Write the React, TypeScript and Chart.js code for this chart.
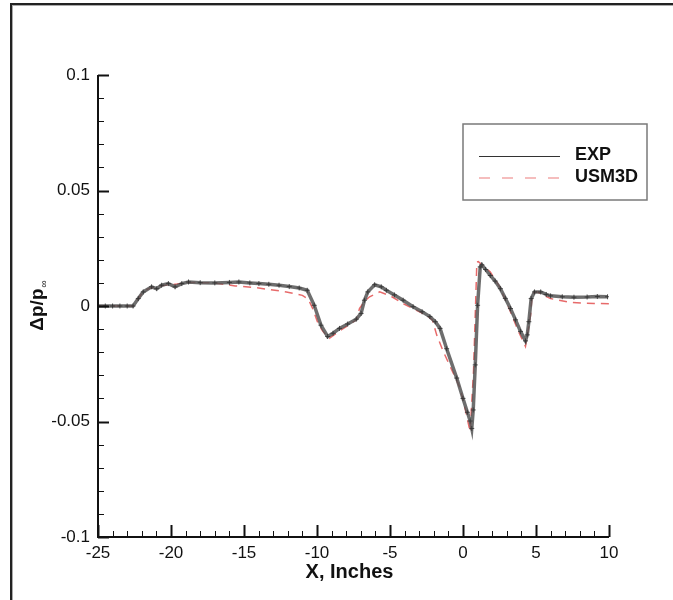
import React, { useEffect, useRef } from 'react';
import { Chart, registerables } from 'chart.js';

Chart.register(...registerables);

// ---- data ----
const seriesNames = ['EXP', 'USM3D'];

const expX = [
  -25, -24.5, -24, -23.5, -23, -22.6, -22.24, -21.9, -21.33, -20.98, -20.64, -20.18, -19.72, -19.26,
  -18.8, -18, -17, -16, -15.35, -14.6, -13.98, -13.3, -12.6, -11.9, -11.22, -10.67, -10.19, -9.73,
  -9.27, -8.9, -8.46, -7.9, -7.31, -6.98, -6.75, -6.52, -6.05, -5.6, -5.25, -4.7, -4.1, -3.42, -2.8,
  -2.27, -1.9, -1.57, -1.12, -0.43, 0.0, 0.3, 0.49, 0.6, 0.7, 0.84, 1.0, 1.18, 1.29, 1.55, 1.87, 2.2,
  2.56, 2.9, 3.25, 3.6, 3.94, 4.28, 4.4, 4.51, 4.67, 4.9, 5.32, 5.7, 6.0, 6.8, 7.6, 8.5, 9.2, 9.9,
];
const expY = [
  0, 0, 0, 0, 0, 0, 0.0032, 0.0061, 0.0083, 0.0075, 0.009, 0.0097, 0.0083, 0.0097,
  0.0104, 0.0101, 0.01, 0.0102, 0.0104, 0.01, 0.0097, 0.0094, 0.009, 0.0084, 0.0078, 0.0068, 0.0003, -0.0083,
  -0.0132, -0.0118, -0.0097, -0.0078, -0.0057, -0.0032, 0.0025, 0.0061, 0.0092, 0.0083, 0.0068, 0.0048, 0.0025, -0.0003, -0.0025,
  -0.0046, -0.0068, -0.0097, -0.0185, -0.0312, -0.04, -0.046, -0.0498, -0.053, -0.045, -0.0255, 0.0003, 0.0169, 0.0178, 0.0158, 0.0132, 0.0108,
  0.0075, 0.0033, -0.0011, -0.006, -0.011, -0.0151, -0.0125, -0.0068, 0.0032, 0.0061, 0.0061, 0.005, 0.0044, 0.004, 0.0038, 0.0039, 0.0041, 0.004,
];

const usmX = [
  -25, -22.6, -22.0, -21.55, -20.9, -20.4, -19.6, -18.8, -17, -15.6, -14, -12.1, -11.0, -10.6, -10.3,
  -9.98, -9.6, -9.15, -8.5, -7.9, -7.3, -7.09, -6.75, -6.4, -5.71, -5.0, -4.12, -3.3, -2.5, -2.1, -1.8,
  -1.35, -0.2, 0.2, 0.49, 0.72, 0.95, 1.05, 1.87, 2.5, 3.25, 3.8, 4.28, 4.63, 4.74, 5.09, 6.0, 7.38, 8.99, 10,
];
const usmY = [
  0, 0, 0.0054, 0.0075, 0.0085, 0.009, 0.0095, 0.0102, 0.01, 0.0087, 0.0078, 0.0061, 0.0046, 0.003, -0.001,
  -0.0067, -0.011, -0.014, -0.011, -0.0085, -0.006, -0.0011, 0.002, 0.004, 0.0061, 0.0045, 0.0011, -0.0015, -0.004, -0.006, -0.0126,
  -0.0197, -0.0355, -0.046, -0.0545, -0.0283, 0.019, 0.0192, 0.0147, 0.0085, -0.0025, -0.011, -0.0175, -0.004, 0.0054, 0.0061, 0.0032, 0.0015, 0.0011, 0.001,
];

const xTicks = [-25, -20, -15, -10, -5, 0, 5, 10];
const xTickLabels = ['-25', '-20', '-15', '-10', '-5', '0', '5', '10'];
const yTicks = [-0.1, -0.05, 0, 0.05, 0.1];
const yTickLabels = ['-0.1', '-0.05', '0', '0.05', '0.1'];
const xTitle = 'X, Inches';
const yTitleMain = 'Δp/p';
const yTitleSub = '∞';

const FONT = '"Liberation Sans", Arial, Helvetica, sans-serif';
const EXP_COLOR = 'rgba(85,85,85,0.85)';
const USM_COLOR = 'rgba(228,90,90,0.9)';
const USM_LEGEND = '#f2a8a8';

const tecplotPlugin = {
  id: 'tecplotAxes',
  afterDraw(chart: any) {
    const { ctx, chartArea, scales } = chart;
    const { left, right, top, bottom } = chartArea;
    const xs = scales.x;
    const ys = scales.y;
    ctx.save();
    // axis lines
    ctx.strokeStyle = '#111';
    ctx.lineWidth = 2;
    ctx.beginPath();
    ctx.moveTo(left, top);
    ctx.lineTo(left, bottom);
    ctx.lineTo(right, bottom);
    ctx.stroke();
    // y ticks (inward)
    for (let v = -0.1; v <= 0.1001; v += 0.01) {
      const py = Math.round(ys.getPixelForValue(v)) + 0.5;
      const major = Math.abs(Math.round(v * 100) % 5) === 0;
      ctx.lineWidth = major ? 2 : 1;
      ctx.beginPath();
      ctx.moveTo(left, py);
      ctx.lineTo(left + (major ? 11 : 6), py);
      ctx.stroke();
    }
    // x ticks (inward)
    for (let v = -25; v <= 10.001; v += 1) {
      const px = Math.round(xs.getPixelForValue(v)) + 0.5;
      const major = Math.round(v) % 5 === 0;
      ctx.lineWidth = major ? 2 : 1;
      ctx.beginPath();
      ctx.moveTo(px, bottom);
      ctx.lineTo(px, bottom - (major ? 12 : 6));
      ctx.stroke();
    }
    // x title
    ctx.fillStyle = '#111';
    ctx.font = `bold 20px ${FONT}`;
    ctx.textAlign = 'center';
    ctx.textBaseline = 'middle';
    ctx.fillText(xTitle, (left + right) / 2 - 4, 572);
    // y title rotated
    ctx.save();
    ctx.translate(36, (top + bottom) / 2);
    ctx.rotate(-Math.PI / 2);
    ctx.font = `bold 19px ${FONT}`;
    const wMain = ctx.measureText(yTitleMain).width;
    ctx.font = `10px ${FONT}`;
    const wSub = ctx.measureText(yTitleSub).width;
    const total = wMain + wSub;
    ctx.textAlign = 'left';
    ctx.textBaseline = 'alphabetic';
    ctx.font = `bold 19px ${FONT}`;
    ctx.fillText(yTitleMain, -total / 2, 7);
    ctx.font = `10px ${FONT}`;
    ctx.fillText(yTitleSub, -total / 2 + wMain + 1, 11);
    ctx.restore();
    // legend
    const bx = 463, by = 124, bw = 184, bh = 76;
    ctx.fillStyle = '#fff';
    ctx.fillRect(bx, by, bw, bh);
    ctx.strokeStyle = '#7a7a7a';
    ctx.lineWidth = 1.5;
    ctx.strokeRect(bx, by, bw, bh);
    ctx.lineWidth = 1;
    ctx.strokeStyle = '#333';
    ctx.beginPath();
    ctx.moveTo(479, 156.5);
    ctx.lineTo(560, 156.5);
    ctx.stroke();
    ctx.strokeStyle = USM_LEGEND;
    ctx.lineWidth = 1.5;
    ctx.setLineDash([11, 12]);
    ctx.beginPath();
    ctx.moveTo(479, 178);
    ctx.lineTo(560, 178);
    ctx.stroke();
    ctx.setLineDash([]);
    ctx.fillStyle = '#111';
    ctx.font = `bold 18px ${FONT}`;
    ctx.textAlign = 'left';
    ctx.textBaseline = 'middle';
    ctx.fillText(seriesNames[0], 575, 155);
    ctx.fillText(seriesNames[1], 575, 177);
    ctx.restore();
  },
};

export default function App() {
  const canvasRef = useRef<HTMLCanvasElement | null>(null);

  useEffect(() => {
    const canvas = canvasRef.current;
    if (!canvas) return;
    const expData = expX.map((x, i) => ({ x, y: expY[i] }));
    const usmData = usmX.map((x, i) => ({ x, y: usmY[i] }));
    const chart = new Chart(canvas, {
      type: 'scatter',
      data: {
        datasets: [
          {
            label: seriesNames[0],
            data: expData,
            showLine: true,
            borderColor: EXP_COLOR,
            borderWidth: 3.5,
            tension: 0,
            pointStyle: 'cross',
            pointRadius: 2.5,
            pointBorderWidth: 1,
            pointBorderColor: 'rgba(50,50,50,0.85)',
            pointBackgroundColor: 'rgba(50,50,50,0.85)',
          },
          {
            label: seriesNames[1],
            data: usmData,
            showLine: true,
            borderColor: USM_COLOR,
            borderWidth: 1.5,
            borderDash: [8, 6],
            tension: 0,
            pointRadius: 0,
          },
        ] as any,
      },
      options: {
        animation: false,
        responsive: false,
        events: [],
        layout: { padding: { left: 0, top: 75, right: 64, bottom: 0 } },
        plugins: { legend: { display: false }, tooltip: { enabled: false } },
        scales: {
          x: {
            type: 'linear',
            min: -25,
            max: 10,
            grid: { display: false, drawTicks: false },
            border: { display: false },
            afterBuildTicks: (scale: any) => {
              scale.ticks = xTicks.map((v) => ({ value: v }));
            },
            afterFit: (scale: any) => {
              scale.height = 63;
            },
            ticks: {
              padding: 6,
              maxRotation: 0,
              autoSkip: false,
              color: '#111',
              font: { family: FONT, size: 17 },
              callback: (_v: any, i: number) => xTickLabels[i],
            },
          },
          y: {
            type: 'linear',
            min: -0.1,
            max: 0.1,
            grid: { display: false, drawTicks: false },
            border: { display: false },
            afterBuildTicks: (scale: any) => {
              scale.ticks = yTicks.map((v) => ({ value: v }));
            },
            afterFit: (scale: any) => {
              scale.width = 98;
            },
            ticks: {
              padding: 8,
              autoSkip: false,
              color: '#111',
              font: { family: FONT, size: 17 },
              callback: (_v: any, i: number) => yTickLabels[i],
            },
          },
        },
      },
      plugins: [tecplotPlugin],
    } as any);
    return () => chart.destroy();
  }, []);

  return (
    <div style={{ position: 'absolute', left: 0, top: 0, width: 673, height: 600, background: '#fff', overflow: 'hidden' }}>
      <canvas ref={canvasRef} width={673} height={600} style={{ position: 'absolute', left: 0, top: 0 }} />
      <div
        style={{
          position: 'absolute',
          left: 10,
          top: 3,
          width: 700,
          height: 700,
          borderLeft: '2px solid #222',
          borderTop: '2px solid #222',
          boxShadow: 'inset 1px 1px 0 #aaa',
          pointerEvents: 'none',
        }}
      />
    </div>
  );
}
